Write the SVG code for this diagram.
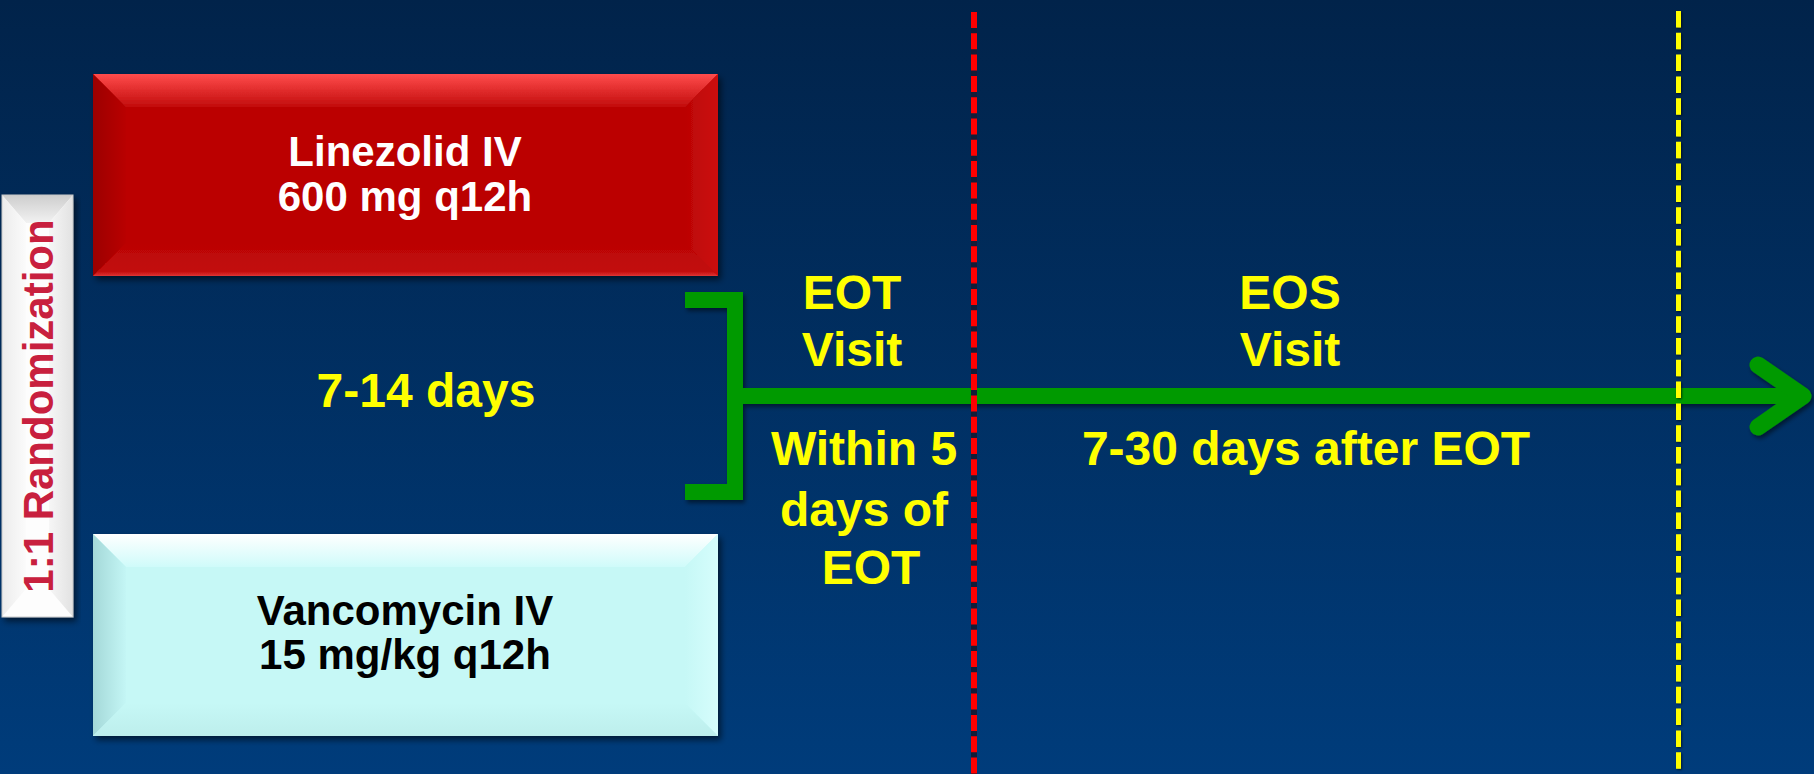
<svg xmlns="http://www.w3.org/2000/svg" width="1814" height="774" viewBox="0 0 1814 774">
<defs>
<linearGradient id="bg" x1="0" y1="0" x2="0" y2="1"><stop offset="0" stop-color="#01234a"/><stop offset="1" stop-color="#003c7b"/></linearGradient>
<linearGradient id="rTop" x1="0" y1="0" x2="0" y2="1"><stop offset="0" stop-color="#ff4c4c"/><stop offset="1" stop-color="#c20c0c"/></linearGradient>
<linearGradient id="rLeft" x1="0" y1="0" x2="1" y2="0"><stop offset="0" stop-color="#9c0000"/><stop offset="1" stop-color="#b90505"/></linearGradient>
<linearGradient id="rRight" x1="0" y1="0" x2="1" y2="0"><stop offset="0" stop-color="#bb0505"/><stop offset="1" stop-color="#cc0c0c"/></linearGradient>
<linearGradient id="rBot" x1="0" y1="0" x2="0" y2="1"><stop offset="0" stop-color="#bb0505"/><stop offset="0.85" stop-color="#c20a0a"/><stop offset="1" stop-color="#e03535"/></linearGradient>
<linearGradient id="cTop" x1="0" y1="0" x2="0" y2="1"><stop offset="0" stop-color="#ffffff"/><stop offset="1" stop-color="#cffbfa"/></linearGradient>
<linearGradient id="cLeft" x1="0" y1="0" x2="1" y2="0"><stop offset="0" stop-color="#a4d8d8"/><stop offset="1" stop-color="#c4f6f5"/></linearGradient>
<linearGradient id="cRight" x1="0" y1="0" x2="1" y2="0"><stop offset="0" stop-color="#c6f8f6"/><stop offset="1" stop-color="#d6fdfc"/></linearGradient>
<linearGradient id="cBot" x1="0" y1="0" x2="0" y2="1"><stop offset="0" stop-color="#c6f8f6"/><stop offset="1" stop-color="#bdeeec"/></linearGradient>
<linearGradient id="wTop" x1="0" y1="0" x2="0" y2="1"><stop offset="0" stop-color="#cdcdcd"/><stop offset="1" stop-color="#f2f2f2"/></linearGradient>
<linearGradient id="wLeft" x1="0" y1="0" x2="1" y2="0"><stop offset="0" stop-color="#ececec"/><stop offset="1" stop-color="#fbfbfb"/></linearGradient>
<linearGradient id="wRight" x1="0" y1="0" x2="1" y2="0"><stop offset="0" stop-color="#f6f6f6"/><stop offset="1" stop-color="#e2e2e2"/></linearGradient>
<filter id="sh" x="-10%" y="-10%" width="120%" height="130%"><feDropShadow dx="3" dy="4" stdDeviation="3" flood-color="#000" flood-opacity="0.55"/></filter>
<filter id="lsh" filterUnits="userSpaceOnUse" x="600" y="250" width="1214" height="300"><feDropShadow dx="2" dy="3" stdDeviation="2" flood-color="#000" flood-opacity="0.5"/></filter>
<filter id="ysh" filterUnits="userSpaceOnUse" x="1660" y="0" width="40" height="774"><feDropShadow dx="1" dy="1" stdDeviation="1.2" flood-color="#000" flood-opacity="0.6"/></filter>
</defs>
<style>
.lbl{font-family:"Liberation Sans",Arial,sans-serif;font-weight:bold;font-size:48px;fill:#ffff00;text-anchor:middle}
.box{font-family:"Liberation Sans",Arial,sans-serif;font-weight:bold;font-size:42px;text-anchor:middle}
.grn{fill:none;stroke:#009a00;stroke-width:16}
</style>
<rect x="0" y="0" width="1814" height="774" fill="url(#bg)"/>

<g id="randomization">
<g filter="url(#sh)">
<rect x="2" y="195" width="71" height="422" fill="#fdfdfd"/>
<polygon points="2,195 73,195 49,223 26,223" fill="url(#wTop)"/>
<polygon points="2,195 26,223 26,589 2,617" fill="url(#wLeft)"/>
<polygon points="73,195 73,617 49,589 49,223" fill="url(#wRight)"/>
<rect x="2" y="195" width="71" height="422" fill="none" stroke="#c8c8c8" stroke-width="1"/>
</g>
<text class="box" transform="translate(53,406) rotate(-90)" fill="#c8203e">1:1 Randomization</text>
</g>

<g id="linezolid">
<g filter="url(#sh)">
<rect x="93" y="74" width="625" height="202" fill="#bb0505"/>
<polygon points="93,74 718,74 685,107 126,107" fill="url(#rTop)"/>
<polygon points="93,74 126,107 126,243 93,276" fill="url(#rLeft)"/>
<polygon points="718,74 718,276 685,243 685,107" fill="url(#rRight)"/>
<polygon points="93,276 126,243 685,243 718,276" fill="url(#rBot)"/>
</g>
<text class="box" fill="#ffffff"><tspan x="405" y="166">Linezolid IV</tspan><tspan x="405" y="211">600 mg q12h</tspan></text>
</g>

<g id="vancomycin">
<g filter="url(#sh)">
<rect x="93" y="534" width="625" height="202" fill="#c6f8f6"/>
<polygon points="93,534 718,534 685,567 126,567" fill="url(#cTop)"/>
<polygon points="93,534 126,567 126,703 93,736" fill="url(#cLeft)"/>
<polygon points="718,534 718,736 685,703 685,567" fill="url(#cRight)"/>
<polygon points="93,736 126,703 685,703 718,736" fill="url(#cBot)"/>
</g>
<text class="box" fill="#000000"><tspan x="405" y="625">Vancomycin IV</tspan><tspan x="405" y="669">15 mg/kg q12h</tspan></text>
</g>

<g id="connectors">
<g filter="url(#lsh)">
<path class="grn" d="M685,300 H735 V492 H685"/>
<path class="grn" d="M735,396 H1800"/>
<polyline points="1758,365 1803,396 1758,427" fill="none" stroke="#009a00" stroke-width="17" stroke-linecap="round" stroke-linejoin="round"/>
</g>
</g>

<g id="eot-line">
<line x1="974" y1="12" x2="974" y2="774" stroke="#111d38" stroke-width="6"/>
<line x1="974" y1="12" x2="974" y2="774" stroke="#ff0000" stroke-width="6" stroke-dasharray="16 5.3"/>
</g>
<g id="eos-line" filter="url(#ysh)">
<line x1="1678.5" y1="11" x2="1678.5" y2="774" stroke="#ffff00" stroke-width="5" stroke-dasharray="16.5 5.3"/>
</g>

<g id="duration-label"><text class="lbl" x="426" y="407">7-14 days</text></g>
<g id="eot-label"><text class="lbl"><tspan x="852" y="309">EOT</tspan><tspan x="852" y="366">Visit</tspan></text></g>
<g id="eot-window"><text class="lbl"><tspan x="864" y="465">Within 5</tspan><tspan x="864" y="526">days of</tspan><tspan x="871" y="584">EOT</tspan></text></g>
<g id="eos-label"><text class="lbl"><tspan x="1290" y="309">EOS</tspan><tspan x="1290" y="366">Visit</tspan></text></g>
<g id="eos-window"><text class="lbl" x="1306" y="465">7-30 days after EOT</text></g>
</svg>
